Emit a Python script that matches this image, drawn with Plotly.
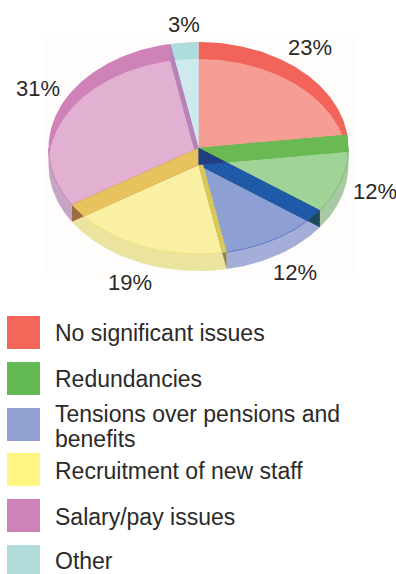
import math
import plotly.graph_objects as go

# Survey shares, clockwise from twelve o'clock
categories = ["No significant issues", "Redundancies", "Tensions over pensions and benefits",
              "Recruitment of new staff", "Salary/pay issues", "Other"]
shares = [23, 12, 12, 19, 31, 3]
legend_lines = [["No significant issues"], ["Redundancies"], ["Tensions over pensions and", "benefits"],
                ["Recruitment of new staff"], ["Salary/pay issues"], ["Other"]]

# Palette for each slice
swatch = ["#f4655a", "#63ba55", "#919fd1", "#fff582", "#cf82b7", "#b1dcdb"]
face = ["#f79e94", "#a0d396", "#8d9fd3", "#f9f0a4", "#e2b1d2", "#cfeaed"]
side = ["#f4655a", "#a9c9a4", "#a4aed9", "#eae4a0", "#c6a4c6", "#b1dcdb"]
back = ["#f2635a", "#6ab952", "#8d9fd3", "#f9f0a4", "#cf82b7", "#afdcdc"]
rim = [None, "#7cc274", "#5f78c4", "#ece27a", "#cf82b7", None]
# Radial wall lying inside each slice (none for the first), and its tone past the rim
wall = [None, "#6ab952", "#1f5aa8", "#d9c958", "#e8c25c", "#b583b8"]
wall_end = [None, "#6ab952", "#1f4a5c", "#8f8454", "#9c6c40", "#b583b8"]
wall_edge_index = [None, 0, 1, 2, 3, 4]

CX, CY, RX, RY, DEPTH = 198.5, 148.0, 150.0, 106.0, 17.0

label_pos = [(310, 47), (375, 191), (295, 272), (130, 282), (38, 88), (184, 24)]
swatch_rows = [332.5, 378.5, 424.5, 469.5, 515.5, 561.5]
text_rows = [[333], [379], [414, 439], [470.5], [516.5], [560.5]]


def rim_point(deg, drop=0.0):
    a = math.radians(deg)
    return (CX + RX * math.sin(a), CY - RY * math.cos(a) + drop)


def arc(start, end, drop=0.0, step=1.0):
    n = max(2, int(abs(end - start) / step) + 1)
    return [rim_point(start + (end - start) * i / (n - 1), drop) for i in range(n)]


def clip_convex(subject, clipper):
    # Sutherland-Hodgman; clipper is convex and clockwise on screen
    out = subject
    for i in range(len(clipper)):
        (ax, ay), (bx, by) = clipper[i], clipper[(i + 1) % len(clipper)]
        side_of = lambda p: (bx - ax) * (p[1] - ay) - (by - ay) * (p[0] - ax)
        src, out = out, []
        for j in range(len(src)):
            p, q = src[j], src[(j + 1) % len(src)]
            sp, sq = side_of(p), side_of(q)
            if sp >= 0:
                out.append(p)
            if sp * sq < 0:
                t = sp / (sp - sq)
                out.append((p[0] + (q[0] - p[0]) * t, p[1] + (q[1] - p[1]) * t))
        if not out:
            return []
    return out


def polygon(pts, color):
    if not pts:
        return
    xs = [p[0] for p in pts] + [pts[0][0]]
    ys = [p[1] for p in pts] + [pts[0][1]]
    fig.add_trace(go.Scatter(x=xs, y=ys, mode="lines", fill="toself", fillcolor=color,
                             line=dict(width=0, color=color), hoverinfo="skip"))


fig = go.Figure()

# Slice angles derived from the shares
edges = [0.0]
for s in shares:
    edges.append(edges[-1] + s * 360.0 / sum(shares))

top_disc = arc(0, 359)
low_disc = arc(0, 359, DEPTH)
apex = (CX, CY)
apex_low = (CX, CY + DEPTH)

# Outer wall along the front half of the disc
for i in range(len(shares)):
    a, b = max(edges[i], 90.0), min(edges[i + 1], 270.0)
    if a < b:
        polygon(arc(a, b) + arc(b, a, DEPTH), side[i])

# Wedge tops: the saturated tone stays visible as the far wall above the lower ellipse
for i in range(len(shares)):
    wedge = [apex] + arc(edges[i], edges[i + 1])
    polygon(wedge, back[i])
    polygon(clip_convex(wedge, low_disc), face[i])

# Front rim hairlines
for i in range(len(shares)):
    a, b = max(edges[i], 90.0), min(edges[i + 1], 270.0)
    if rim[i] and a < b:
        pts = arc(a, b)
        fig.add_trace(go.Scatter(x=[p[0] for p in pts], y=[p[1] for p in pts], mode="lines",
                                 line=dict(width=1, color=rim[i]), hoverinfo="skip"))


def band(deg):
    return [apex, rim_point(deg), rim_point(deg, DEPTH), apex_low]


# Radial walls between neighbouring slices; the part beyond the rim sits on the outer wall
for i in [5, 1, 2, 3, 4]:
    deg = edges[wall_edge_index[i] + 1]
    poly = band(deg)
    polygon(poly, wall_end[i])
    polygon(clip_convex(poly, top_disc), wall[i])

# Darker overlap where two radial walls cross
polygon(clip_convex(band(edges[1]), band(edges[2])[::-1]) or clip_convex(band(edges[1]), band(edges[2])), "#1f3f80")

# Percentage labels
for s, (x, y) in zip(shares, label_pos):
    fig.add_annotation(x=x, y=y, text=f"{s}%", showarrow=False, xanchor="center", yanchor="middle",
                       font=dict(family="Liberation Sans", size=22, color="#2b2a29"))

# Key: colour squares and their captions
fig.add_trace(go.Scatter(x=[23.5] * len(swatch), y=swatch_rows, mode="markers",
                         marker=dict(symbol="square", size=33, color=swatch, line=dict(width=0)),
                         text=categories, hoverinfo="text"))
for lines, rows in zip(legend_lines, text_rows):
    for line, y in zip(lines, rows):
        fig.add_annotation(x=55, y=y, text=line, showarrow=False, xanchor="left", yanchor="middle",
                           xshift=-2, font=dict(family="Liberation Sans", size=23, color="#2b2a29"))

fig.update_layout(
    width=396, height=574, margin=dict(l=0, r=0, t=0, b=0),
    paper_bgcolor="white", plot_bgcolor="white", showlegend=False,
    xaxis=dict(visible=False, range=[0, 396], fixedrange=True),
    yaxis=dict(visible=False, range=[574, 0], fixedrange=True),
    shapes=[dict(type="rect", xref="x", yref="y", x0=45, x1=355, y0=35, y1=277, layer="below",
                 fillcolor="#fefdfc", line=dict(width=0))],
)

fig.write_html("out.html", config={"displayModeBar": False})
